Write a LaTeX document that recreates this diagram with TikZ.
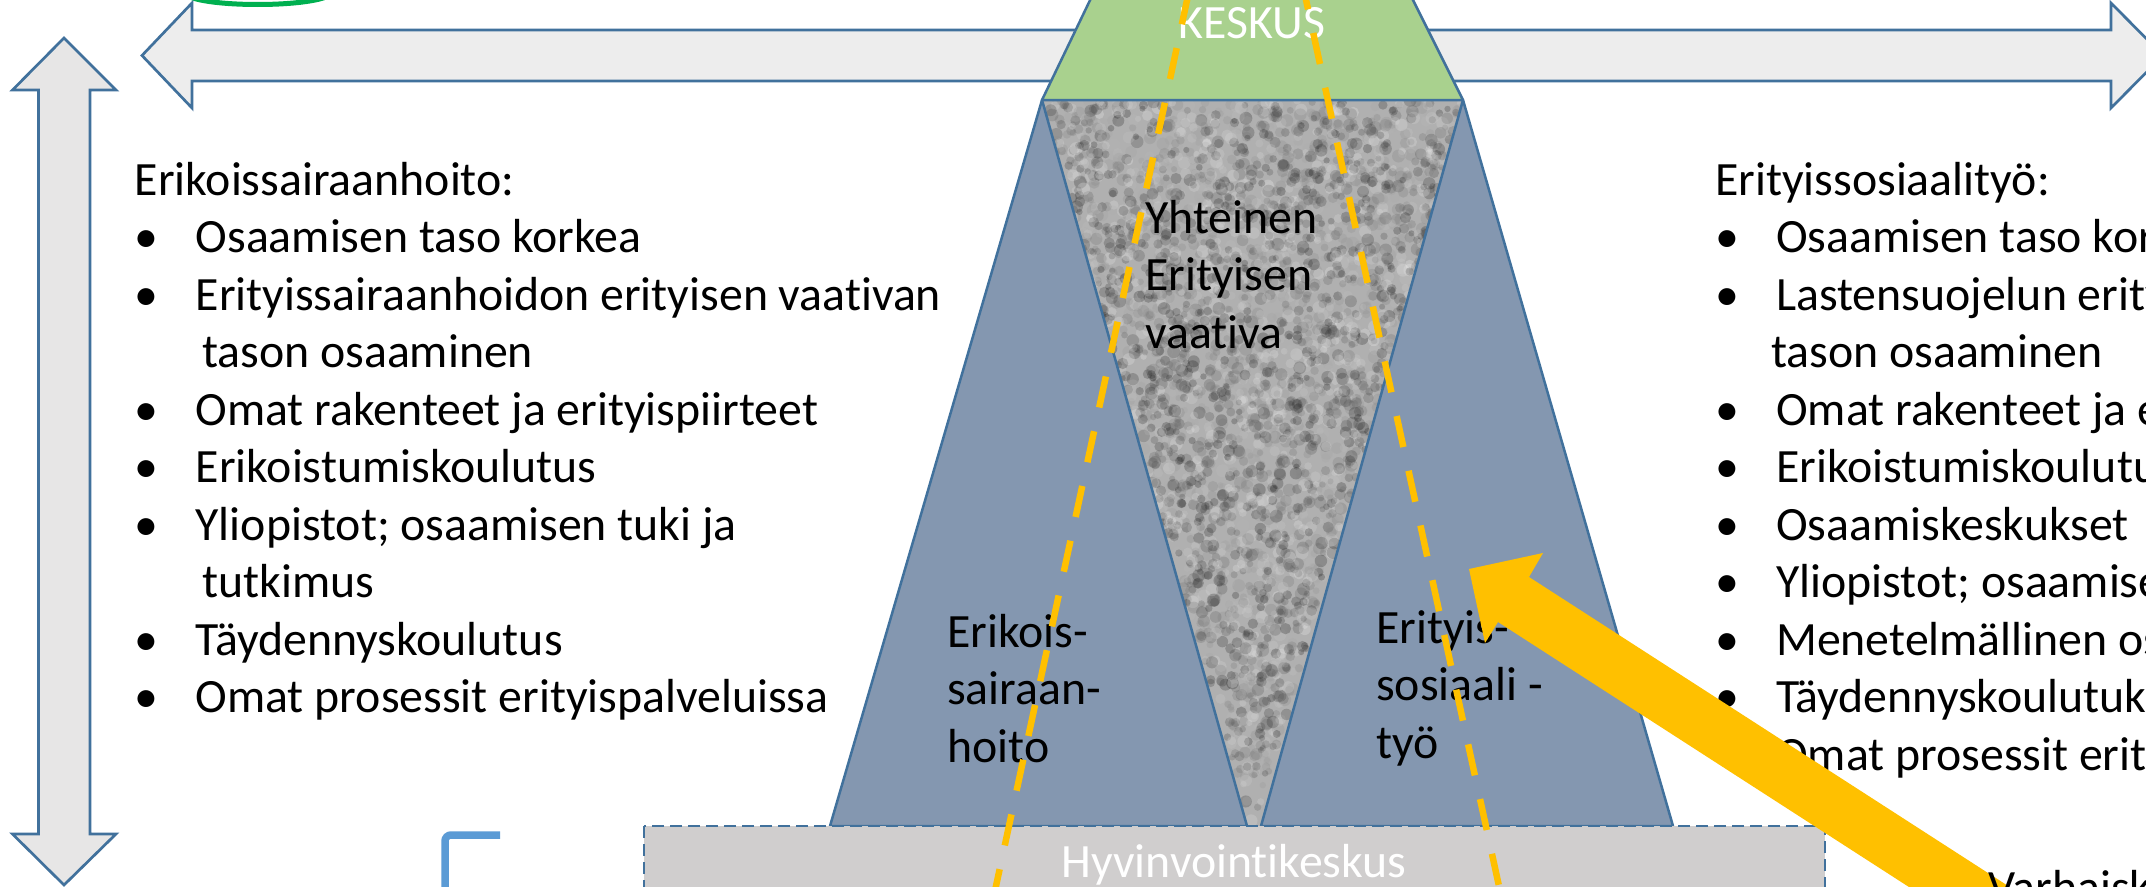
\documentclass[tikz,border=0pt]{standalone}
\usepackage{fontspec}
\setmainfont{Carlito}[Ligatures=NoCommon]

\definecolor{edgeblue}{HTML}{41719C}
\definecolor{slateblue}{HTML}{8497B0}
\definecolor{keskusgreen}{HTML}{A9D18E}
\definecolor{boxgrey}{HTML}{D0CECE}
\definecolor{hgrey}{HTML}{EDEDED}
\definecolor{vgrey}{HTML}{E7E6E6}
\definecolor{amber}{HTML}{FFC000}
\definecolor{ringgreen}{HTML}{00B050}
\definecolor{bracketblue}{HTML}{5B9BD5}
\definecolor{noisegrey}{HTML}{B0B0B0}

\newcommand{\bul}{\makebox[61pt][l]{\textbullet}}

\begin{document}
\begin{tikzpicture}[x=1pt,y=-1pt,
  listtext/.style={font=\fontsize{47.8}{57.5}\selectfont, inner sep=0pt, align=left, anchor=base west},
  whitetext/.style={font=\fontsize{47.8}{57.5}\selectfont, inner sep=0pt, anchor=base, text=white},
  bigarrow/.style={draw=edgeblue, line width=2.7pt, line join=miter},
  bluepart/.style={fill=slateblue, draw=edgeblue, line width=2.5pt, line join=round},
  yellowdash/.style={amber, line width=6.5pt, dash pattern=on 31.7pt off 24.3pt}]
\useasboundingbox (0,0) rectangle (2146,886);
\clip (0,0) rectangle (2146,886);
\fill[white] (0,0) rectangle (2146,886);

% ring at the top
\draw[ringgreen, line width=5pt] (190,-3) .. controls (215,7) and (300,7) .. (326,-3);

% double arrows
\filldraw[bigarrow, fill=hgrey] (142,55.5) -- (192,3) -- (192,30) -- (2111,30) -- (2111,3)
  -- (2163,55.5) -- (2111,108) -- (2111,81) -- (192,81) -- (192,108) -- cycle;
\filldraw[bigarrow, fill=vgrey] (64,38) -- (116,90) -- (90,90) -- (90,834) -- (116,834)
  -- (64,885) -- (12.5,834) -- (38.5,834) -- (38.5,90) -- (12.5,90) -- cycle;

% shared part, noisy grey
\begin{scope}
  \clip (1042,100) -- (1463,100) -- (1262,826) -- (1247,826) -- cycle;
  \fill[noisegrey] (1030,95) rectangle (1475,830);
  \pgfmathsetseed{11}
  \foreach \k in {1,...,3400}{
    \pgfmathsetmacro\dd{1-sqrt(rnd)}
    \pgfmathsetmacro\yy{100+728*\dd}
    \pgfmathsetmacro\xx{1253+(2*rnd-1)*216*(1-\dd)}
    \pgfmathsetmacro\gg{int(100*rnd)}
    \pgfmathsetmacro\rr{3+3.5*rnd}
    \fill[white!\gg!black, opacity=0.22] (\xx,\yy) circle[radius=\rr];
  }
\end{scope}

% the two sides
\filldraw[bluepart] (1042,100) -- (1247,826) -- (830,826) -- cycle;
\filldraw[bluepart] (1463,100) -- (1673,826) -- (1261,826) -- cycle;

% top trapezoid
\filldraw[fill=keskusgreen, draw=edgeblue, line width=2.5pt, line join=round]
  (1042,100) -- (1463,100) -- (1383,-60) -- (1119,-60) -- cycle;
\node[whitetext] (keskus) at (1252,38) {KESKUS};

% base box
\filldraw[fill=boxgrey, draw=edgeblue, line width=2.5pt, dash pattern=on 12pt off 6pt]
  (644,826) rectangle (1825,960);
\node[whitetext] (hyvinvointi) at (1234,877) {Hyvinvointikeskus};

% bracket
\draw[bracketblue, line width=7.5pt, rounded corners=6pt] (500,835) -- (445,835) -- (445,900);

% lists (anchored at the last line)
\node[listtext] (leftlist) at (134.5,712.5) {Erikoissairaanhoito:\\
  \bul Osaamisen taso korkea\\
  \bul Erityissairaanhoidon erityisen vaativan\\
  \hspace*{67.5pt}tason osaaminen\\
  \bul Omat rakenteet ja erityispiirteet\\
  \bul Erikoistumiskoulutus\\
  \bul Yliopistot; osaamisen tuki ja\\
  \hspace*{67.5pt}tutkimus\\
  \bul Täydennyskoulutus\\
  \bul Omat prosessit erityispalveluissa};
\node[listtext] (rightlist) at (1715,770) {Erityissosiaalityö:\\
  \bul Osaamisen taso korkea\\
  \bul Lastensuojelun erityisen vaativan\\
  \hspace*{56pt}tason osaaminen\\
  \bul Omat rakenteet ja erityispiirteet\\
  \bul Erikoistumiskoulutus\\
  \bul Osaamiskeskukset\\
  \bul Yliopistot; osaamisen tuki ja tutkimus\\
  \bul Menetelmällinen osaaminen\\
  \bul Täydennyskoulutukset\\
  \bul Omat prosessit erityispalveluissa};

% labels of the parts
\node[listtext] (yhteinen) at (1145,348) {Yhteinen\\Erityisen\\vaativa};
\node[listtext] (erikois) at (947,762) {Erikois-\\sairaan-\\hoito};
\node[listtext] (erityis) at (1376,758) {Erityis-\\sosiaali -\\työ};

% dashed lines
\draw[yellowdash] (1188.5,-6.7) -- (993,900);
\draw[yellowdash] (1301.3,-21.7) -- (1502,900);

% big arrow
\fill[amber] (1469,569) -- (1543,553) -- (1529,577) -- (2033,902) -- (2002,947)
  -- (1498,622) -- (1485,643) -- cycle;
\node[listtext] (varhais) at (1988,903) {Varhaiskasvatus};
\end{tikzpicture}
\end{document}
